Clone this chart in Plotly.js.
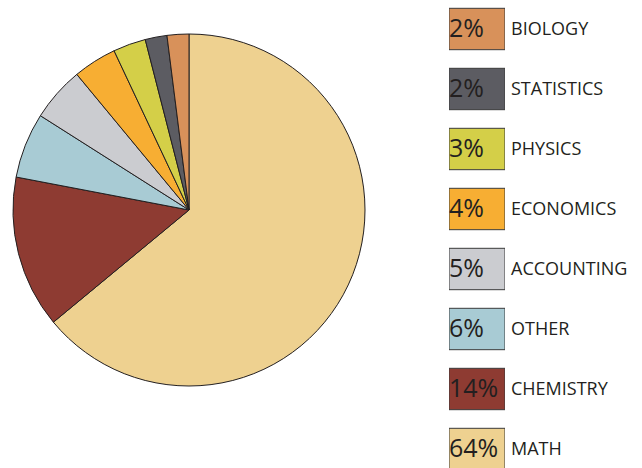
<!DOCTYPE html>
<html>
<head>
<meta charset="utf-8">
<script src="https://cdn.plot.ly/plotly-3.0.1.min.js"></script>
<style>html,body{margin:0;padding:0;background:#fff;}#chart{width:642px;height:468px;}</style>
</head>
<body>
<div id="chart"></div>
<script>
const categories = ["MATH", "CHEMISTRY", "OTHER", "ACCOUNTING", "ECONOMICS", "PHYSICS", "STATISTICS", "BIOLOGY"];
const values = [64, 14, 6, 5, 4, 3, 2, 2];
const colors = ["#EED190", "#8E3B32", "#A8CBD4", "#CBCCD0", "#F7AE33", "#D4CF48", "#5C5C62", "#D8915A"];
const pctLabels = values.map(v => v + "%");

const pie = {
  type: "pie",
  labels: categories,
  values: values,
  sort: false,
  direction: "clockwise",
  rotation: 0,
  textinfo: "none",
  hoverinfo: "label+percent",
  marker: {colors: colors, line: {color: "#231F20", width: 1}},
  domain: {x: [13/642, 365/642], y: [82/468, 434/468]},
  showlegend: false
};

const legendBars = {
  type: "bar",
  orientation: "h",
  y: categories,
  x: categories.map(() => 1),
  base: 0,
  width: 0.69,
  xaxis: "x",
  yaxis: "y",
  marker: {color: colors, line: {color: "#3a3a3a", width: 1}},
  hoverinfo: "skip",
  showlegend: false
};

const legendPct = {
  type: "scatter",
  mode: "text",
  y: categories,
  x: categories.map(() => 0),
  xaxis: "x",
  yaxis: "y2",
  text: pctLabels,
  textposition: "middle right",
  textfont: {family: "Open Sans, sans-serif", size: 25, color: "#231F20"},
  hoverinfo: "skip",
  showlegend: false,
  cliponaxis: false
};

const r0 = -19/60, span = 468/60, shift = 2/60;
const layout = {
  width: 642, height: 468,
  margin: {l: 0, r: 0, t: 0, b: 0},
  paper_bgcolor: "#fff", plot_bgcolor: "rgba(0,0,0,0)",
  showlegend: false,
  xaxis: {domain: [449/642, 505/642], range: [0, 1], visible: false, fixedrange: true},
  yaxis: {
    domain: [0, 1], type: "category", categoryarray: categories, categoryorder: "array",
    range: [r0, r0 + span],
    side: "right", anchor: "x", showgrid: false, zeroline: false, showline: false,
    ticks: "", ticklabelstandoff: 5,
    tickfont: {family: "Open Sans, sans-serif", size: 18, color: "#231F20"},
    fixedrange: true
  },
  yaxis2: {
    overlaying: "y", type: "category", categoryarray: categories, categoryorder: "array",
    range: [r0 + shift, r0 + shift + span], visible: false, fixedrange: true
  }
};

Plotly.newPlot("chart", [pie, legendBars, legendPct], layout, {displayModeBar: false, staticPlot: true});
</script>
</body>
</html>
